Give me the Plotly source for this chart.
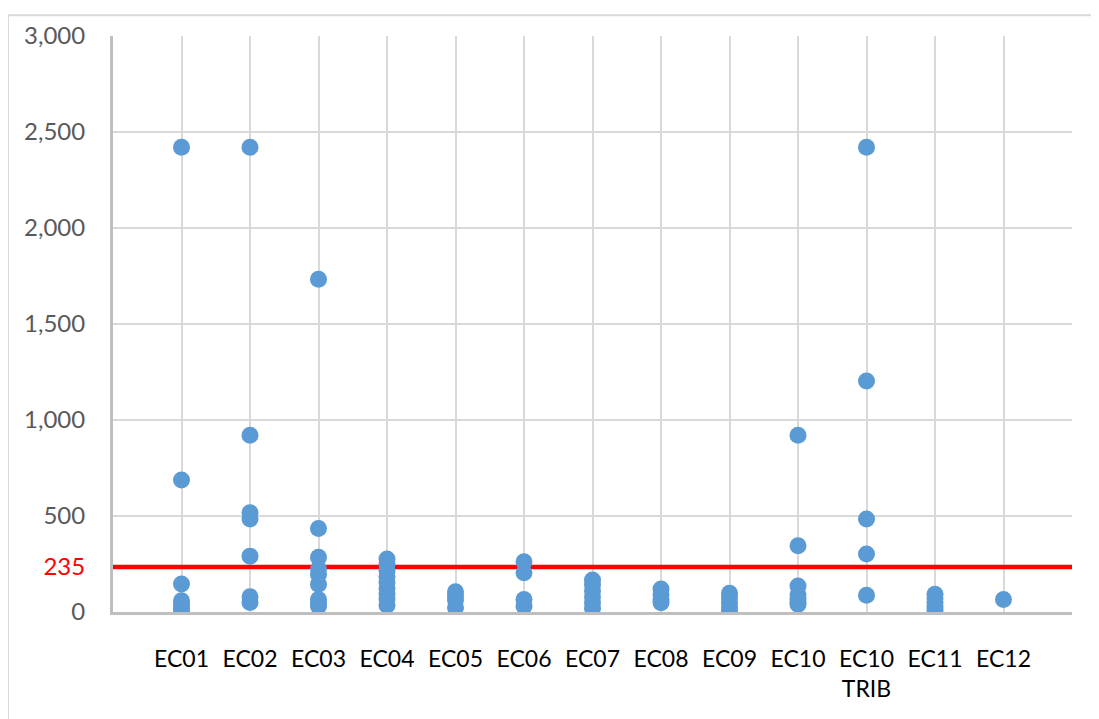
import plotly.graph_objects as go

categories = ["EC01", "EC02", "EC03", "EC04", "EC05", "EC06", "EC07",
              "EC08", "EC09", "EC10", "EC10<br>TRIB", "EC11", "EC12"]

ec01 = [2420, 687, 146, 58, 40, 22, 4]
ec02 = [2420, 921, 517, 484, 291, 80, 50]
ec03 = [1733, 435, 285, 225, 197, 145, 65, 45, 30]
ec04 = [276, 248, 214, 185, 155, 122, 95, 68, 35]
ec05 = [106, 86, 62, 24]
ec06 = [262, 205, 65, 30]
ec07 = [167, 140, 110, 80, 50, 20]
ec08 = [120, 90, 62, 48]
ec09 = [98, 75, 50, 27, 6]
ec10 = [921, 345, 135, 90, 70, 52, 40]
ec10_trib = [2420, 1203, 484, 302, 87]
ec11 = [93, 70, 50, 30, 10]
ec12 = [65]

series = [ec01, ec02, ec03, ec04, ec05, ec06, ec07, ec08, ec09, ec10,
          ec10_trib, ec11, ec12]

threshold = 235
y_ticks = [0, 500, 1000, 1500, 2000, 2500, 3000]
y_tick_text = ["0", "500", "1,000", "1,500", "2,000", "2,500", "3,000"]

xs, ys = [], []
for i, vals in enumerate(series):
    for v in vals:
        xs.append(i + 1)
        ys.append(v)

fig = go.Figure()

fig.add_trace(go.Scatter(
    x=[0, len(categories) + 1], y=[threshold, threshold],
    mode="lines", line=dict(color="#FF0000", width=4.5),
    showlegend=False, hoverinfo="skip"))

fig.add_trace(go.Scatter(
    x=xs, y=ys, mode="markers",
    marker=dict(color="#5B9BD5", size=17, line=dict(width=0)),
    showlegend=False))

x_tickvals = list(range(0, len(categories) + 2))
x_ticktext = [""] + categories + [""]

yt_vals = y_ticks[:1] + [threshold] + y_ticks[1:]
yt_text = y_tick_text[:1] + ['<span style="color:#FF0000">%d</span>' % threshold] + y_tick_text[1:]

# page has an 8px body margin; plot area in screenshot: x 113..1072, y 32..612.5
L, T, R, B = 105, 21, 35, 114.5
pw = 1099 - L - R
ph = 719 - T - B

fig.update_layout(
    width=1099, height=719,
    margin=dict(l=L, r=R, t=T, b=B, pad=0),
    paper_bgcolor="white", plot_bgcolor="white",
    font=dict(family="Lato, 'Liberation Sans', sans-serif"),
    xaxis=dict(
        range=[0, len(categories) + 1],
        tickmode="array", tickvals=x_tickvals, ticktext=x_ticktext,
        showgrid=True, gridcolor="#D9D9D9", gridwidth=2,
        zeroline=False,
        showline=True, linecolor="#BFBFBF", linewidth=3,
        ticks="", ticklabelstandoff=24,
        tickfont=dict(size=23, color="#000000"),
        fixedrange=True,
    ),
    yaxis=dict(
        range=[0, 3000],
        tickmode="array", tickvals=yt_vals, ticktext=yt_text,
        showgrid=True, gridcolor="#D9D9D9", gridwidth=2,
        zeroline=False,
        showline=True, linecolor="#BFBFBF", linewidth=3,
        ticks="", ticklabelstandoff=20,
        tickfont=dict(size=24, color="#595959"),
        fixedrange=True,
    ),
    shapes=[dict(
        type="rect", xref="paper", yref="paper",
        x0=(0 - L) / pw, x1=(1110 - L) / pw,
        y0=(T + ph - 730) / ph, y1=(T + ph - 0) / ph,
        line=dict(color="#D9D9D9", width=2), fillcolor="rgba(0,0,0,0)",
        layer="below")],
)

fig.write_html("out.html")
